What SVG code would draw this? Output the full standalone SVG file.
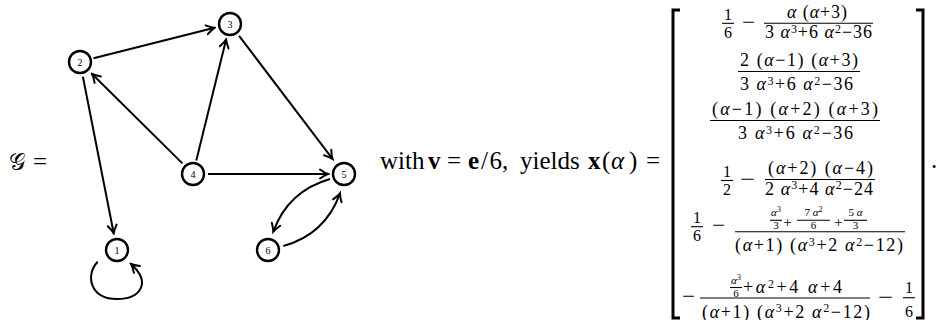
<svg xmlns="http://www.w3.org/2000/svg" width="937" height="320" viewBox="0 0 937 320">
<defs>
<style>
.m{font-family:"Liberation Serif",serif;font-size:18px;fill:#000}
.L{font-size:25px}
.s{font-size:16px}
.t{font-size:11px}
.p{font-size:15px}
.u{font-size:12px}
.tu{font-size:8px}
.c{text-anchor:middle}
.i{font-style:italic}
.b{font-weight:bold}
.bar{stroke:#000;stroke-width:1.1}
.br{fill:none;stroke:#000;stroke-width:3}
.e{fill:none;stroke:#000;stroke-width:2;marker-end:url(#ah)}
.n circle{fill:#fff;stroke:#000;stroke-width:2.4}
.n text{font-family:"Liberation Serif",serif;font-size:10px;text-anchor:middle;fill:#000}
</style>
<marker id="ah" viewBox="-10 -6 12 12" refX="0" refY="0" markerWidth="12" markerHeight="12" markerUnits="userSpaceOnUse" orient="auto">
<path d="M-8,-4.5 Q-3,-1 0,0 Q-3,1 -8,4.5" fill="none" stroke="#000" stroke-width="2" stroke-linecap="round"/>
</marker>
</defs>
<rect width="937" height="320" fill="#fff"/>

<text class="m L" y="170"><tspan x="9" font-family="DejaVu Serif, DejaVu Sans, serif" font-size="23">𝒢</tspan><tspan x="33">=</tspan></text>

<g id="connectors">
<line class="e" x1="93.5" y1="58.3" x2="214.5" y2="27.8"/>
<line class="e" x1="82.9" y1="76.7" x2="113.7" y2="233.3"/>
<line class="e" x1="182.4" y1="163.4" x2="92.1" y2="74"/>
<line class="e" x1="196.3" y1="160.4" x2="226.1" y2="39.5"/>
<line class="e" x1="239.1" y1="35.9" x2="332.5" y2="158.9"/>
<line class="e" x1="208" y1="174" x2="328" y2="174"/>
<path class="e" d="M330,179 Q288,191 273.3,231.7"/>
<path class="e" d="M283.3,246 Q325.3,234.3 340,193.3"/>
<path class="e" d="M97.7,261.7 C85,275 90,299 117,299 C140,299 152,283 131,264"/>
</g>

<g id="node1" class="n"><circle cx="117" cy="250" r="11"/><text x="117" y="253.5">1</text></g>
<g id="node2" class="n"><circle cx="80" cy="62" r="11"/><text x="80" y="65.5">2</text></g>
<g id="node3" class="n"><circle cx="230" cy="24" r="11"/><text x="230" y="27.5">3</text></g>
<g id="node4" class="n"><circle cx="193" cy="174" r="11"/><text x="193" y="177.5">4</text></g>
<g id="node5" class="n"><circle cx="344" cy="174" r="11"/><text x="344" y="177.5">5</text></g>
<g id="node6" class="n"><circle cx="268" cy="250" r="11"/><text x="268" y="253.5">6</text></g>

<text class="m L" y="169"><tspan x="380">with</tspan><tspan x="428" class="b">v</tspan><tspan x="447">=</tspan><tspan x="468" class="b">e</tspan><tspan x="481">/</tspan><tspan x="489.5">6,</tspan><tspan x="520">yields</tspan><tspan x="588" class="b">x</tspan><tspan x="602">(</tspan><tspan x="611" class="i">α</tspan><tspan x="629">)</tspan><tspan x="646">=</tspan></text>

<g id="matrix">
<path class="br" d="M680,10 H673 V318 H680"/>
<path class="br" d="M916,10 H923 V318 H916"/>

<text class="m s c" x="728" y="19.5">1</text>
<line class="bar" x1="722" y1="23.3" x2="734" y2="23.3"/>
<text class="m s c" x="728" y="37.5">6</text>
<text class="m" x="742" y="28" textLength="13" lengthAdjust="spacingAndGlyphs">−</text>
<text class="m" x="787" y="17.5" textLength="60"><tspan class="i">α</tspan> (<tspan class="i">α</tspan>+3)</text>
<line class="bar" x1="764" y1="23.3" x2="873" y2="23.3"/>
<text class="m" x="765" y="38" textLength="107">3 <tspan class="i">α</tspan><tspan class="u" dy="-5.5">3</tspan><tspan dy="5.5">+6 </tspan><tspan class="i">α</tspan><tspan class="u" dy="-5.5">2</tspan><tspan dy="5.5">−36</tspan></text>

<text class="m" x="740" y="65.5" textLength="118">2 (<tspan class="i">α</tspan>−1) (<tspan class="i">α</tspan>+3)</text>
<line class="bar" x1="738" y1="71.5" x2="860" y2="71.5"/>
<text class="m" x="740" y="90" textLength="113">3 <tspan class="i">α</tspan><tspan class="u" dy="-5.5">3</tspan><tspan dy="5.5">+6 </tspan><tspan class="i">α</tspan><tspan class="u" dy="-5.5">2</tspan><tspan dy="5.5">−36</tspan></text>

<text class="m" x="712" y="115" textLength="166">(<tspan class="i">α</tspan>−1) (<tspan class="i">α</tspan>+2) (<tspan class="i">α</tspan>+3)</text>
<line class="bar" x1="710" y1="120.5" x2="880" y2="120.5"/>
<text class="m" x="738" y="139" textLength="115">3 <tspan class="i">α</tspan><tspan class="u" dy="-5.5">3</tspan><tspan dy="5.5">+6 </tspan><tspan class="i">α</tspan><tspan class="u" dy="-5.5">2</tspan><tspan dy="5.5">−36</tspan></text>

<text class="m s c" x="727" y="176.5">1</text>
<line class="bar" x1="721" y1="180.5" x2="733" y2="180.5"/>
<text class="m s c" x="727" y="194.5">2</text>
<text class="m" x="740" y="184.5" textLength="15" lengthAdjust="spacingAndGlyphs">−</text>
<text class="m" x="768" y="173.5" textLength="105">(<tspan class="i">α</tspan>+2) (<tspan class="i">α</tspan>−4)</text>
<line class="bar" x1="765" y1="179.5" x2="875" y2="179.5"/>
<text class="m" x="765" y="194.5" textLength="108">2 <tspan class="i">α</tspan><tspan class="u" dy="-5.5">3</tspan><tspan dy="5.5">+4 </tspan><tspan class="i">α</tspan><tspan class="u" dy="-5.5">2</tspan><tspan dy="5.5">−24</tspan></text>

<text class="m s c" x="697" y="222.5">1</text>
<line class="bar" x1="691" y1="226.7" x2="703" y2="226.7"/>
<text class="m s c" x="697" y="241">6</text>
<text class="m" x="712" y="231" textLength="13" lengthAdjust="spacingAndGlyphs">−</text>
<text class="m t c" x="776" y="216"><tspan class="i">α</tspan><tspan class="tu" dy="-4">3</tspan></text>
<line class="bar" x1="770" y1="220.3" x2="782" y2="220.3" stroke-width="0.8"/>
<text class="m t c" x="776" y="228.7">3</text>
<text class="m p c" x="787.5" y="226.5">+</text>
<text class="m t c" x="813.5" y="216">7 <tspan class="i">α</tspan><tspan class="tu" dy="-4">2</tspan></text>
<line class="bar" x1="797" y1="220.3" x2="830" y2="220.3" stroke-width="0.8"/>
<text class="m t c" x="813.5" y="228.7">6</text>
<text class="m p c" x="838.5" y="226.5">+</text>
<text class="m t c" x="855.5" y="216">5 <tspan class="i">α</tspan></text>
<line class="bar" x1="844" y1="220.3" x2="867" y2="220.3" stroke-width="0.8"/>
<text class="m t c" x="855.5" y="228.7">3</text>
<line class="bar" x1="735" y1="231.7" x2="905" y2="231.7"/>
<text class="m" x="735" y="251" textLength="168">(<tspan class="i">α</tspan>+1) (<tspan class="i">α</tspan><tspan class="u" dy="-5.5">3</tspan><tspan dy="5.5">+2 </tspan><tspan class="i">α</tspan><tspan class="u" dy="-5.5">2</tspan><tspan dy="5.5">−12)</tspan></text>

<text class="m" x="682" y="301.5" textLength="13" lengthAdjust="spacingAndGlyphs">−</text>
<text class="m t c" x="736" y="284"><tspan class="i">α</tspan><tspan class="tu" dy="-4">3</tspan></text>
<line class="bar" x1="730" y1="287.5" x2="742" y2="287.5" stroke-width="0.8"/>
<text class="m t c" x="736" y="296.7">6</text>
<text class="m" x="743" y="293" textLength="99">+<tspan class="i">α</tspan><tspan class="u" dy="-5.5">2</tspan><tspan dy="5.5">+4 </tspan><tspan class="i">α</tspan>+4</text>
<line class="bar" x1="700" y1="298" x2="870" y2="298"/>
<text class="m" x="702" y="317.5" textLength="168">(<tspan class="i">α</tspan>+1) (<tspan class="i">α</tspan><tspan class="u" dy="-5.5">3</tspan><tspan dy="5.5">+2 </tspan><tspan class="i">α</tspan><tspan class="u" dy="-5.5">2</tspan><tspan dy="5.5">−12)</tspan></text>
<text class="m" x="878" y="302.5" textLength="15" lengthAdjust="spacingAndGlyphs">−</text>
<text class="m s c" x="909" y="292.5">1</text>
<line class="bar" x1="903" y1="297.7" x2="915" y2="297.7"/>
<text class="m s c" x="909" y="316.5">6</text>
</g>
<text class="m L" x="931" y="168">.</text>
</svg>
